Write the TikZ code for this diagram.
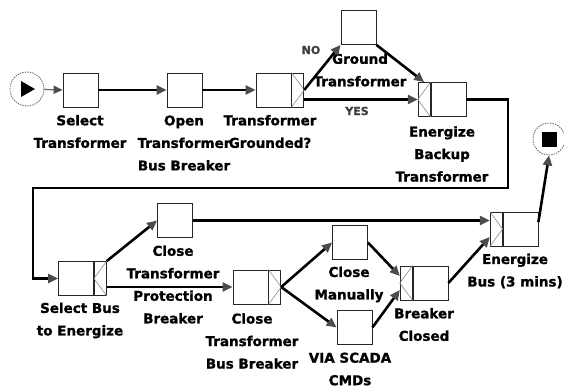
\documentclass[tikz,border=0pt]{standalone}
\usepackage{fontspec}
\setmainfont{DejaVu Sans}
\newfontfamily\lblfont{DejaVu Sans}[BoldFeatures={FakeBold=1.2}]
\usetikzlibrary{arrows.meta}
\begin{document}
\begin{tikzpicture}[x=1pt,y=-1pt,
  task/.style={draw=black!85,line width=0.8pt,fill=white,minimum width=35pt,minimum height=34pt,inner sep=0pt},
  gw/.style={draw=black!85,line width=0.8pt,fill=white,minimum width=12pt,minimum height=34pt,inner sep=0pt},
  gwline/.style={draw=black!45,line width=0.6pt},
  flow/.style={line width=2.6pt,-{Triangle[length=10pt,width=9pt,color=black!70]}},
  thinflow/.style={line width=1.2pt,draw=black!60,-{Triangle[length=9pt,width=8pt,color=black!70]}},
  lbl/.style={font=\lblfont\fontsize{13.5}{22.5}\selectfont\bfseries,align=center,inner sep=0pt},
  small/.style={font=\lblfont\fontsize{11}{13}\selectfont\bfseries,text=black!75,inner sep=0pt},
  evt/.style={circle,draw=black!60,dash pattern=on 1.5pt off 1pt,line width=0.8pt,inner sep=0pt}]
\useasboundingbox (0,0) rectangle (564,388);

% events
\node[evt,minimum size=34pt] (start) at (27,89) {};
\fill (21,81) -- (21,97) -- (35,89) -- cycle;
\node[evt,minimum size=32pt] (endc) at (549,139) {};
\node[fill=black,minimum size=15pt,inner sep=0pt] (endsq) at (endc) {};

% tasks
\node[task] (st) at (80.5,90) {};
\node[task] (ob) at (184.5,90) {};
\node[task] (tg) at (273.5,90) {};
\node[gw,anchor=west] (tgG) at (tg.east) {};
\node[task] (gt) at (358.5,27.5) {};
\node[task] (eb) at (448.5,99.5) {};
\node[gw,anchor=east] (ebG) at (eb.west) {};
\node[task] (sb) at (76,278.5) {};
\node[gw,anchor=west] (sbG) at (sb.east) {};
\node[task] (ctpb) at (175,220.5) {};
\node[task] (ctbb) at (250.5,287) {};
\node[gw,anchor=west] (ctbbG) at (ctbb.east) {};
\node[task] (cm) at (350,242.5) {};
\node[task] (vs) at (354.5,327.5) {};
\node[task] (bc) at (430.5,283) {};
\node[gw,anchor=east] (bcG) at (bc.west) {};
\node[task] (eu) at (520.5,229) {};
\node[gw,anchor=east] (euG) at (eu.west) {};

% gateway marks
\draw[gwline] (tgG.north west) -- (tgG.east) -- (tgG.south west);
\draw[gwline] (ebG.north east) -- (ebG.west) -- (ebG.south east);
\draw[gwline] (sbG.north east) -- (sbG.west) -- (sbG.south east);
\draw[gwline] (ctbbG.north west) -- (ctbbG.east) -- (ctbbG.south west);
\draw[gwline] (bcG.north east) -- (bcG.west) -- (bcG.south east);
\draw[gwline] (euG.north west) -- (euG.east) -- (euG.south west);

% labels
\node[lbl] (l-st) at (80,131.5) {Select\\Transformer};
\node[lbl] (l-ob) at (184,143) {Open\\Transformer\\Bus Breaker};
\node[lbl] (l-tg) at (270,131.5) {Transformer\\Grounded?};
\node[lbl] (l-gt) at (360,70) {Ground\\Transformer};
\node[lbl] (l-eb) at (442,154) {Energize\\Backup\\Transformer};
\node[lbl] (l-sb) at (80,320.5) {Select Bus\\to Energize};
\node[lbl] (l-ctpb) at (173,284.5) {Close\\Transformer\\Protection\\Breaker};
\node[lbl] (l-ctbb) at (252,341) {Close\\Transformer\\Bus Breaker};
\node[lbl] (l-cm) at (349,284.5) {Close\\Manually};
\node[lbl] (l-vs) at (350,369) {VIA SCADA\\CMDs};
\node[lbl] (l-bc) at (424,324.5) {Breaker\\Closed};
\node[lbl] (l-eu) at (515,271) {Energize\\Bus (3 mins)};
\node[small] (l-no) at (311,50) {NO};
\node[small] (l-yes) at (357,111) {YES};

% connectors
\coordinate (r1) at (508,188);
\coordinate (l1) at (33,188);
\draw[thinflow] (start) -- (st.west);
\draw[flow] (st.east) -- (ob.west);
\draw[flow] (ob.east) -- (tg.west);
\draw[flow] (tgG.east) -- (gt.south west);
\draw[flow] (tgG.south east |- ebG.west) -- (ebG.west);
\draw[flow] (gt.south east) -- (ebG.north);
\draw[flow] (eb.east) -| (r1) -- (l1) |- (sb.west);
\draw[flow] (sbG.north east) -- (ctpb.west);
\draw[flow] (sbG.east |- ctbb.west) -- (ctbb.west);
\draw[flow] (ctpb.east) -- (euG.west |- ctpb.east);
\draw[flow] (ctbbG.east) -- (cm.west);
\draw[flow] (ctbbG.east) -- (vs.west);
\draw[flow] (cm.east) -- ([yshift=7pt]bcG.west);
\draw[flow] (vs.east) -- ([yshift=-7pt]bcG.west);
\draw[flow] (bc.east) -- ([yshift=-8pt]euG.west);
\draw[flow] ([yshift=7pt]eu.east) -- (endc.south);
\end{tikzpicture}
\end{document}
